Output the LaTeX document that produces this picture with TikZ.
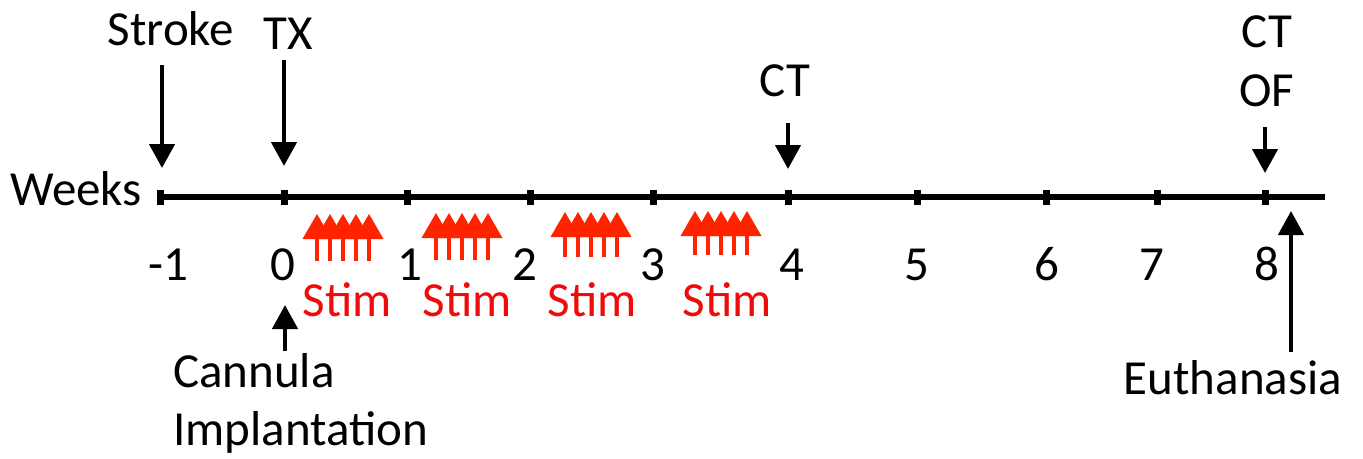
\documentclass[tikz,border=0pt]{standalone}
\usepackage{fontspec}
\setmainfont{Carlito}
\usetikzlibrary{arrows.meta}
\definecolor{stimarrow}{RGB}{255,35,0}
\definecolor{stimtext}{RGB}{240,10,10}
\tikzset{
  lbl/.style={font=\fontsize{49}{53}\selectfont, inner sep=0pt, anchor=base},
  axisline/.style={line width=6.5pt},
  tickbox/.style={fill=black},
  evt/.style={line width=4.5pt, -{Triangle[width=25pt,length=24pt]}},
  stimstem/.style={stimarrow, line width=4.5pt},
  stimhead/.style={fill=stimarrow},
  stimlbl/.style={lbl, text=stimtext},
}
\begin{document}
\begin{tikzpicture}[x=1pt,y=-1pt]
\useasboundingbox (0,0) rectangle (1363,458);
% axis
\coordinate (axL) at (160,197);
\coordinate (axR) at (1325,197);
\draw[axisline] (axL) -- (axR);
\node[lbl, anchor=base east] (weeks) at (142,205) {Weeks};
% ticks and numbers
\foreach \n/\tx in {m1/160, 0/284, 1/407, 2/530, 3/653, 4/788, 5/917, 6/1046, 7/1157, 8/1265}{
  \coordinate (t\n) at (\tx,197);
  \fill[tickbox] (\tx-3.5,189.5) rectangle (\tx+3.5,204.5);
}
\foreach \n/\lx/\txt in {m1/168/-1, 0/283/0, 1/410/1, 2/525/2, 3/653/3, 4/792/4, 5/917/5, 6/1047/6, 7/1152/7, 8/1267/8}{
  \node[lbl] (n\n) at (\lx,280) {\txt};
}
% top labels and arrows
\node[lbl] (stroke) at (171,45) {Stroke};
\node[lbl] (tx) at (288,49) {TX};
\node[lbl] (ct4) at (785,96) {CT};
\node[lbl] (ct8) at (1267,47) {CT};
\node[lbl] (of8) at (1267,106) {OF};
\coordinate (strokeS) at (162,65);
\coordinate (strokeE) at (162,168);
\coordinate (txS) at (284,60);
\coordinate (txE) at (284,166);
\coordinate (ct4S) at (788,123);
\coordinate (ct4E) at (788,169);
\coordinate (ct8S) at (1265,127);
\coordinate (ct8E) at (1265,173);
\draw[evt] (strokeS) -- (strokeE);
\draw[evt] (txS) -- (txE);
\draw[evt] (ct4S) -- (ct4E);
\draw[evt] (ct8S) -- (ct8E);
% bottom labels and arrows
\node[lbl, anchor=base west] (cann) at (173,387) {Cannula};
\node[lbl, anchor=base west] (impl) at (173,445) {Implantation};
\coordinate (cannS) at (285,351);
\coordinate (cannE) at (285,305);
\draw[evt] (cannS) -- (cannE);
\node[lbl] (euth) at (1233,394) {Euthanasia};
\coordinate (euthS) at (1291,352);
\coordinate (euthE) at (1291,211);
\draw[evt] (euthS) -- (euthE);
% stim groups
\foreach \g/\cx/\tp/\bt/\sx in {1/343/214/261/347, 2/462/213/260/467, 3/591/212/257/592, 4/721/211/255/727}{
  \foreach \i in {-2,-1,0,1,2}{
    \draw[stimstem] (\cx+\i*13,\bt) -- (\cx+\i*13,\tp+20);
  }
  \foreach \i in {-2,-1,0,1,2}{
    \fill[stimhead] (\cx+\i*13-14.5,\tp+25) -- (\cx+\i*13,\tp) -- (\cx+\i*13+14.5,\tp+25) -- cycle;
  }
  \node[stimlbl] (stim\g) at (\sx,316) {Stim};
}
\end{tikzpicture}
\end{document}
